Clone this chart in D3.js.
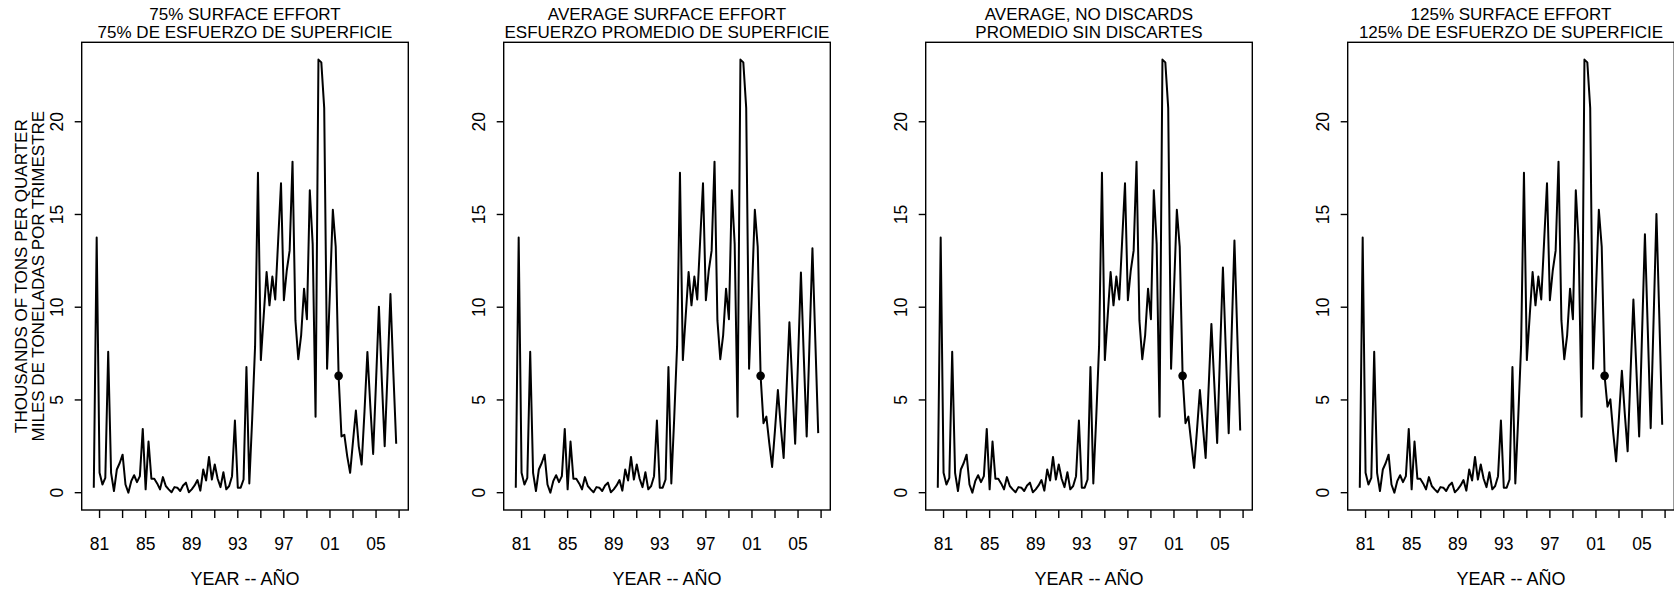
<!DOCTYPE html>
<html><head><meta charset="utf-8">
<script src="https://cdn.jsdelivr.net/npm/d3@7"></script>
<style>body{margin:0;background:#fff}svg{display:block}</style>
</head><body>
<svg id="chart" width="1674" height="592"></svg>
<script>
// ---- data ----
const firstYear = 1980, firstQuarter = 3; // first quarterly observation
const historical = [
  0.27, 13.76, 1.07, 0.44, 0.80, 7.60, 1.07, 0.09, 1.25, 1.60,
  2.05, 0.44, 0.00, 0.62, 0.94, 0.57, 0.89, 3.44, 0.18, 2.76,
  0.75, 0.75, 0.50, 0.18, 0.84, 0.36, 0.18, 0.02, 0.30, 0.27,
  0.09, 0.39, 0.54, 0.02, 0.18, 0.39, 0.68, 0.11, 1.25, 0.66,
  1.93, 0.71, 1.52, 0.75, 0.30, 1.10, 0.18, 0.36, 0.89, 3.89,
  0.27, 0.27, 0.71, 6.78, 0.50, 4.00, 7.90, 17.25, 7.15, 9.55,
  11.90, 10.10, 11.65, 10.42, 13.55, 16.68, 10.38, 11.98, 13.05, 17.85,
  9.30, 7.20, 8.50, 11.00, 9.35, 16.30, 13.40, 4.10, 23.35, 23.20,
  20.75, 6.68, 10.90, 15.25, 13.25, 6.30
];
const proj75 = [3.03, 3.12, 1.96, 1.07, 2.77, 4.43, 2.50, 1.52, 4.40, 7.59,
                4.70, 2.09, 6.00, 10.03, 6.10, 2.50, 6.50, 10.71, 6.50, 2.64];
const projAverage = [3.75, 4.10, 2.68, 1.39, 3.39, 5.53, 3.57, 1.87, 5.53, 9.19,
                5.89, 2.64, 7.14, 11.87, 7.32, 3.03, 8.21, 13.18, 8.20, 3.21];
const projNoDiscards = [3.75, 4.10, 2.68, 1.34, 3.39, 5.53, 3.66, 1.87, 5.53, 9.10,
                5.89, 2.68, 7.50, 12.14, 7.68, 3.21, 8.39, 13.60, 8.48, 3.35];
const proj125 = [4.64, 5.03, 3.21, 1.69, 4.10, 6.57, 4.28, 2.23, 6.43, 10.42,
                6.78, 3.03, 8.57, 13.93, 8.75, 3.48, 9.28, 15.03, 9.46, 3.66];
const titlesEn = ["75% SURFACE EFFORT", "AVERAGE SURFACE EFFORT", "AVERAGE, NO DISCARDS", "125% SURFACE EFFORT"];
const titlesEs = ["75% DE ESFUERZO DE SUPERFICIE", "ESFUERZO PROMEDIO DE SUPERFICIE", "PROMEDIO SIN DISCARTES", "125% DE ESFUERZO DE SUPERFICIE"];
const xTickYears = [1981, 1983, 1985, 1987, 1989, 1991, 1993, 1995, 1997, 1999, 2001, 2003, 2005, 2007];
const xLabelYears = [1981, 1985, 1989, 1993, 1997, 2001, 2005];
const xTickLabels = ["81", "85", "89", "93", "97", "01", "05"];
const yTicks = [0, 5, 10, 15, 20];
const xTitle = "YEAR -- AÑO";
const yTitle = ["THOUSANDS OF TONS PER QUARTER", "MILES DE TONELADAS POR TRIMESTRE"];
const projections = [proj75, projAverage, projNoDiscards, proj125];

// ---- layout ----
const font = "'Liberation Sans', Arial, Helvetica, sans-serif";
const panelLeft = 81.7, panelStep = 422, plotW = 326.6, plotTop = 42.3, plotH = 467.7;

const timeOf = i => firstYear + (firstQuarter - 1) / 4 + i / 4;
const nAll = historical.length + proj75.length;
const tExt = [timeOf(0), timeOf(nAll - 1)];
const tPad = (tExt[1] - tExt[0]) * 0.04;
const allVals = historical.concat(...projections);
const yMax = d3.max(allVals), yMin = 0;
const yPad = (yMax - yMin) * 0.04;

const x = d3.scaleLinear().domain([tExt[0] - tPad, tExt[1] + tPad]).range([0, plotW]);
const y = d3.scaleLinear().domain([yMin - yPad, yMax + yPad]).range([plotH, 0]);

const svg = d3.select("#chart");
svg.append("rect").attr("width", 1674).attr("height", 592).attr("fill", "#fff");

const line = d3.line().x(d => x(d.t)).y(d => y(d.v));

projections.forEach((proj, k) => {
  const g = svg.append("g").attr("transform", `translate(${panelLeft + k * panelStep},${plotTop})`);
  const series = historical.concat(proj).map((v, i) => ({t: timeOf(i), v}));

  g.append("path").datum(series).attr("d", line)
    .attr("fill", "none").attr("stroke", "#000").attr("stroke-width", 2)
    .attr("stroke-linejoin", "round");

  const last = historical.length - 1;
  g.append("circle").attr("cx", x(timeOf(last))).attr("cy", y(historical[last]))
    .attr("r", 4.3).attr("fill", "#000");

  // box
  g.append("rect").attr("width", plotW).attr("height", plotH)
    .attr("fill", "none").attr("stroke", "#000").attr("stroke-width", 1.4);

  // x axis
  const xa = g.append("g").attr("transform", `translate(0,${plotH})`);
  xa.selectAll("line.tick").data(xTickYears).join("line")
    .attr("x1", d => x(d)).attr("x2", d => x(d)).attr("y1", 0).attr("y2", 8)
    .attr("stroke", "#000").attr("stroke-width", 1.4);
  xa.selectAll("text").data(xLabelYears).join("text")
    .attr("x", d => x(d)).attr("y", 39.5).attr("text-anchor", "middle")
    .attr("font-family", font).attr("font-size", 17.5).attr("fill", "#000")
    .text((d, i) => xTickLabels[i]);
  xa.append("text").attr("x", plotW / 2).attr("y", 75).attr("text-anchor", "middle")
    .attr("font-family", font).attr("font-size", 18).attr("fill", "#000").text(xTitle);

  // y axis
  const ya = g.append("g");
  ya.selectAll("line").data(yTicks).join("line")
    .attr("x1", -7).attr("x2", 0).attr("y1", d => y(d)).attr("y2", d => y(d))
    .attr("stroke", "#000").attr("stroke-width", 1.4);
  ya.selectAll("text").data(yTicks).join("text")
    .attr("transform", d => `translate(-19,${y(d)}) rotate(-90)`)
    .attr("text-anchor", "middle")
    .attr("font-family", font).attr("font-size", 17.5).attr("fill", "#000")
    .text(d => d);

  // titles
  g.append("text").attr("x", plotW / 2).attr("y", 20 - plotTop).attr("text-anchor", "middle")
    .attr("font-family", font).attr("font-size", 17).attr("fill", "#000").text(titlesEn[k]);
  g.append("text").attr("x", plotW / 2).attr("y", 37.7 - plotTop).attr("text-anchor", "middle")
    .attr("font-family", font).attr("font-size", 17).attr("fill", "#000").text(titlesEs[k]);

  if (k === 0) {
    yTitle.forEach((t, j) => {
      g.append("text")
        .attr("transform", `translate(${[27.5, 44][j] - panelLeft},${plotH / 2}) rotate(-90)`)
        .attr("text-anchor", "middle")
        .attr("font-family", font).attr("font-size", 17).attr("fill", "#000").text(t);
    });
  }
});
</script>
</body></html>
